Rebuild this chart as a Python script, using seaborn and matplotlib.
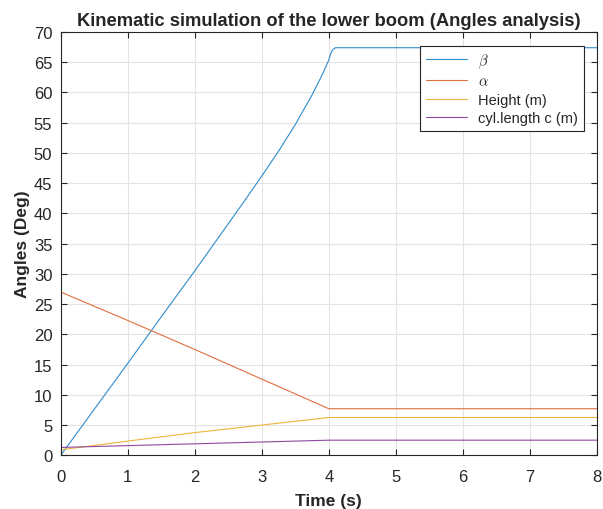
import pandas as pd
import matplotlib
matplotlib.use("Agg")
import matplotlib.pyplot as plt
import seaborn as sns

# values
t_beta = [0, 0.5, 1, 1.5, 2, 2.5, 2.75, 3, 3.25, 3.5, 3.75, 3.9, 4.0, 4.03, 4.06, 4.1, 8]
beta = [0, 7.6, 15.2, 22.9, 30.5, 38.3, 42.2, 46.2, 50.3, 54.7, 59.6, 62.9, 65.4,
        66.5, 67.1, 67.4, 67.4]

t_lin = [0, 1, 2, 3, 4, 8]
alpha = [27.0, 22.3, 17.5, 12.6, 7.7, 7.7]
height = [0.9, 2.35, 3.75, 5.0, 6.25, 6.25]
cyl_len = [1.3, 1.6, 1.9, 2.2, 2.5, 2.5]

names = [r"$\beta$", r"$\alpha$", "Height (m)", "cyl.length c (m)"]
colors = ["#2F8CCB", "#E0703E", "#EDB53A", "#8E4A9E"]

frames = [pd.DataFrame({"t": t_beta, "v": beta, "s": names[0]})]
for name, vals in zip(names[1:], [alpha, height, cyl_len]):
    frames.append(pd.DataFrame({"t": t_lin, "v": vals, "s": name}))
df = pd.concat(frames, ignore_index=True)

sns.set_style("white")
plt.rcParams["font.family"] = ["Liberation Sans", "DejaVu Sans"]
plt.rcParams["mathtext.fontset"] = "cm"

fig = plt.figure(figsize=(6.03, 5.10), dpi=100)
ax = fig.add_axes([0.1007, 0.1053, 0.8893, 0.8300])

sns.lineplot(data=df, x="t", y="v", hue="s", hue_order=names,
             palette=colors, estimator=None, sort=False, linewidth=0.8, ax=ax)

ax.set_xlim(0, 8)
ax.set_ylim(0, 70)
ax.set_xticks(range(0, 9))
ax.set_yticks(range(0, 71, 5))
ax.grid(True, color="#e3e3e3", linewidth=0.8)
ax.set_axisbelow(True)
for sp in ax.spines.values():
    sp.set_color("#262626")
    sp.set_linewidth(0.8)
ax.tick_params(direction="in", length=4, width=0.8, color="#262626",
               labelsize=12, labelcolor="#262626", top=True, right=True,
               left=True, bottom=True)
ax.tick_params(axis="x", pad=10)
ax.tick_params(axis="y", pad=6)

ax.set_title("Kinematic simulation of the lower boom (Angles analysis)",
             fontsize=13.2, fontweight="bold", pad=5)
ax.set_xlabel("Time (s)", fontsize=12.5, fontweight="bold", labelpad=6)
ax.set_ylabel("Angles (Deg)", fontsize=12.5, fontweight="bold", labelpad=3)

leg = ax.legend(loc="upper right", bbox_to_anchor=(0.976, 0.967), borderaxespad=0,
                fontsize=10.5, handlelength=2.8, labelspacing=0.3, frameon=True,
                fancybox=False, framealpha=1, edgecolor="#262626", title=None)
leg.get_frame().set_linewidth(0.8)

fig.savefig("out.png", dpi=100)
